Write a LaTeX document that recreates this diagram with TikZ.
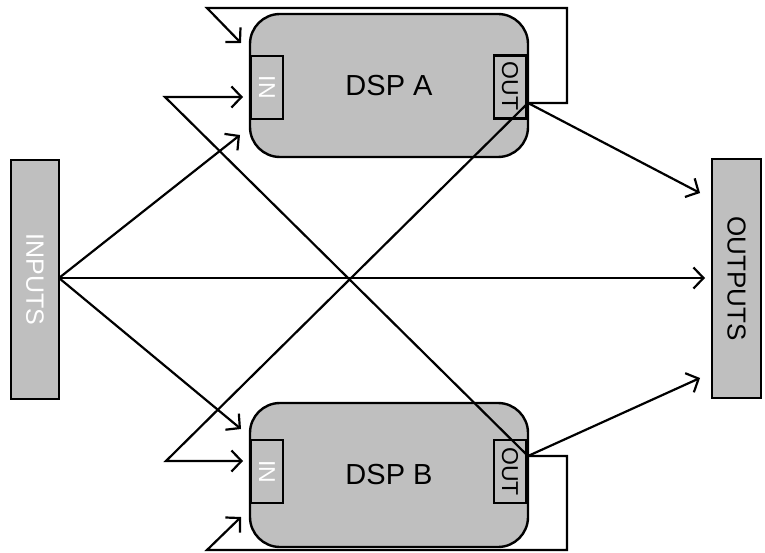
\documentclass[tikz,border=0pt]{standalone}
\usepackage{fontspec}
\setmainfont{Liberation Sans}
\usetikzlibrary{arrows.meta}
\definecolor{boxgray}{RGB}{191,191,191}
\begin{document}
\begin{tikzpicture}[x=1pt,y=-1pt,
  box/.style={draw=black,line width=2.4pt,fill=boxgray,inner sep=0pt,anchor=center},
  dsp/.style={box,rounded corners=30pt,minimum width=278pt,minimum height=143pt,font=\fontsize{29}{30}\selectfont},
  port/.style={box,minimum width=32pt,minimum height=63pt},
  io/.style={box,minimum width=48pt,minimum height=239pt},
  lbl/.style={rotate=-90,inner sep=0pt,anchor=center},
  wire/.style={line width=2.2pt,line join=miter},
  arr/.style={wire,-{Straight Barb[length=10pt,width=21pt,line width=2.2pt]}}
]
\useasboundingbox (0,0) rectangle (765,553);
\node[io] (inputs) at (35,279.5) {};
\node[lbl,text=white,font=\fontsize{25}{26}\selectfont] (inputstxt) at (35,279.5) {INPUTS};
\node[io,minimum width=49pt] (outputs) at (736.5,278.5) {};
\node[lbl,font=\fontsize{26}{27}\selectfont] (outputstxt) at (736.5,278.5) {OUTPUTS};

\node[dsp] (dspA) at (389,85.5) {DSP A};
\node[port] (inA) at (267,87.5) {};
\node[lbl,text=white,font=\fontsize{23}{24}\selectfont] (inAt) at (267,87.5) {IN};
\node[port] (outA) at (510,87) {};
\node[lbl,font=\fontsize{23}{24}\selectfont] (outAt) at (510,86) {OUT};

\node[dsp,minimum height=144pt] (dspB) at (389,475) {DSP B};
\node[port] (inB) at (267,471.5) {};
\node[lbl,text=white,font=\fontsize{23}{24}\selectfont] (inBt) at (267,471.5) {IN};
\node[port] (outB) at (510,471.5) {};
\node[lbl,font=\fontsize{23}{24}\selectfont] (outBt) at (510,471.5) {OUT};

\coordinate (pA) at (528,103);
\coordinate (pB) at (528,456);
\coordinate (pI) at (59,278);

% feedback loops
\coordinate (fA1) at (567,103);
\coordinate (fA2) at (567,8);
\coordinate (fA3) at (207,8);
\coordinate (tA1) at (241,43);
\draw[arr] (pA) -- (fA1) -- (fA2) -- (fA3) -- (tA1);
\coordinate (fB1) at (567,456);
\coordinate (fB2) at (567,550);
\coordinate (fB3) at (207,550);
\coordinate (tB1) at (241,517);
\draw[arr] (pB) -- (fB1) -- (fB2) -- (fB3) -- (tB1);

% cross connections
\coordinate (cA) at (166,461);
\coordinate (tB2) at (243,461);
\draw[arr] (pA) -- (cA) -- (tB2);
\coordinate (cB) at (165,97);
\coordinate (tA2) at (243,97);
\draw[arr] (pB) -- (cB) -- (tA2);

% inputs
\coordinate (tA3) at (240,135);
\coordinate (tB3) at (241,429);
\coordinate (tO2) at (705,278);
\draw[arr] (pI) -- (tA3);
\draw[arr] (pI) -- (tB3);
\draw[arr] (pI) -- (tO2);

% outputs
\coordinate (tO1) at (700,193);
\coordinate (tO3) at (700,378);
\draw[arr] (pA) -- (tO1);
\draw[arr] (pB) -- (tO3);
\end{tikzpicture}
\end{document}
